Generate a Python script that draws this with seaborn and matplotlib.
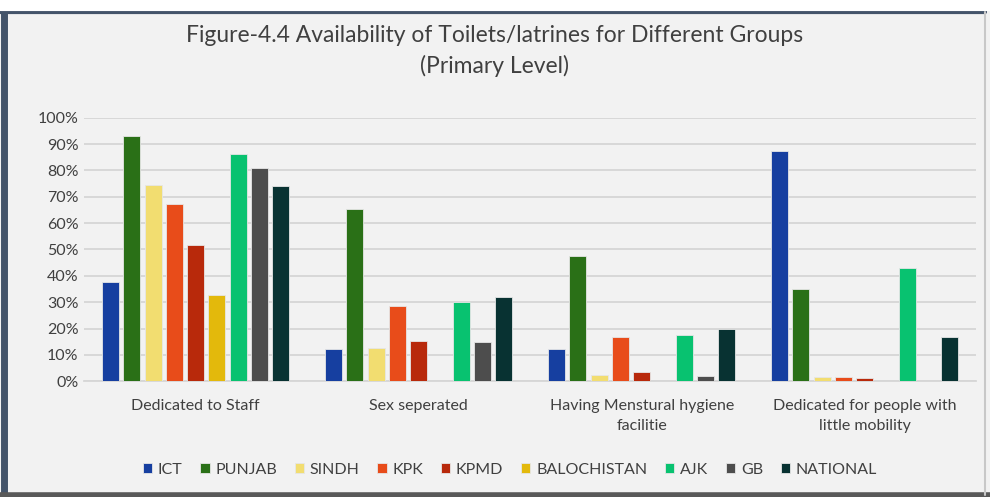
import pandas as pd
import matplotlib
matplotlib.use("Agg")
import matplotlib.pyplot as plt
from matplotlib.lines import Line2D
from matplotlib.ticker import PercentFormatter
import seaborn as sns

categories = ["Dedicated to Staff", "Sex seperated",
              "Having Menstural hygiene\nfacilitie",
              "Dedicated for people with\nlittle mobility"]
groups = ["ICT", "PUNJAB", "SINDH", "KPK", "KPMD", "BALOCHISTAN", "AJK", "GB", "NATIONAL"]
ict = [37.5, 12.3, 12.3, 87.3]
punjab = [93.0, 65.2, 47.7, 35.0]
sindh = [74.3, 12.5, 2.3, 1.5]
kpk = [67.4, 28.4, 16.8, 1.6]
kpmd = [51.6, 15.3, 3.4, 1.1]
balochistan = [32.7, 0.0, 0.0, 0.0]
ajk = [86.4, 29.9, 17.6, 43.0]
gb = [81.0, 15.0, 2.0, 0.0]
national = [74.0, 31.8, 20.0, 16.8]
colors = ["#163fa0", "#2a7017", "#f2dd70", "#e84c1a", "#b8290b",
          "#e3b90c", "#08c270", "#4d4d4d", "#083232"]

series = [ict, punjab, sindh, kpk, kpmd, balochistan, ajk, gb, national]
rows = []
for g, vals in zip(groups, series):
    for c, v in zip(categories, vals):
        rows.append({"category": c, "group": g, "value": v / 100})
df = pd.DataFrame(rows)

sns.set_theme(style="white")
plt.rcParams["font.family"] = ["Lato", "DejaVu Sans"]

bg = "#f2f2f2"
fig = plt.figure(figsize=(9.9, 4.97), dpi=100, facecolor=bg)
# frame: dark on left/top/bottom, light on the right
border = "#44546a"
fig.add_artist(Line2D([0.004, 0.004], [0.005, 0.975], transform=fig.transFigure, color=border, lw=5))
fig.add_artist(Line2D([0.0, 0.995], [0.975, 0.975], transform=fig.transFigure, color=border, lw=3))
fig.add_artist(Line2D([0.0, 1.0], [0.005, 0.005], transform=fig.transFigure, color="#595959", lw=4))
fig.add_artist(Line2D([0.995, 0.995], [0.005, 0.975], transform=fig.transFigure, color="#c8c8c8", lw=1.5))
fig.add_artist(Line2D([0.0, 1.0], [0.99, 0.99], transform=fig.transFigure, color="white", lw=8))

ax = fig.add_axes([0.085, 0.233, 0.901, 0.53])
ax.set_facecolor(bg)

sns.barplot(data=df, x="category", y="value", hue="group", hue_order=groups,
            palette=colors, saturation=1, width=0.86, gap=0.2, ax=ax, legend=True,
            edgecolor="#e6e6e6", linewidth=0.6, zorder=3)

ax.set_ylim(0, 1.0)
ax.set_yticks([i / 10 for i in range(11)])
ax.yaxis.set_major_formatter(PercentFormatter(1.0, decimals=0))
ax.grid(axis="y", color="#d6d6d6", linewidth=1.3, zorder=0)
ax.set_axisbelow(True)
for s in ["top", "right", "left"]:
    ax.spines[s].set_visible(False)
ax.spines["bottom"].set_color("#d6d6d6")
ax.spines["bottom"].set_linewidth(1.3)
ax.tick_params(axis="both", length=0, labelsize=11.5, colors="#404040")
ax.tick_params(axis="x", pad=13)
ax.tick_params(axis="y", pad=4)
for lbl in ax.get_xticklabels():
    lbl.set_linespacing(1.5)
ax.set_xlabel("")
ax.set_ylabel("")

fig.text(0.5, 0.928, "Figure-4.4 Availability of Toilets/latrines for Different Groups",
         ha="center", va="center", fontsize=16.5, color="#404040")
fig.text(0.5, 0.868, "(Primary Level)", ha="center", va="center", fontsize=16.5, color="#404040")

handles, labels = ax.get_legend_handles_labels()
ax.legend_.remove()
fig.legend(handles, labels, loc="center", bbox_to_anchor=(0.515, 0.055), ncol=9,
           frameon=False, fontsize=11.5, handlelength=0.6, handleheight=0.6,
           handletextpad=0.35, columnspacing=1.1, labelcolor="#404040")

fig.savefig("out.png", dpi=100, facecolor=bg)
